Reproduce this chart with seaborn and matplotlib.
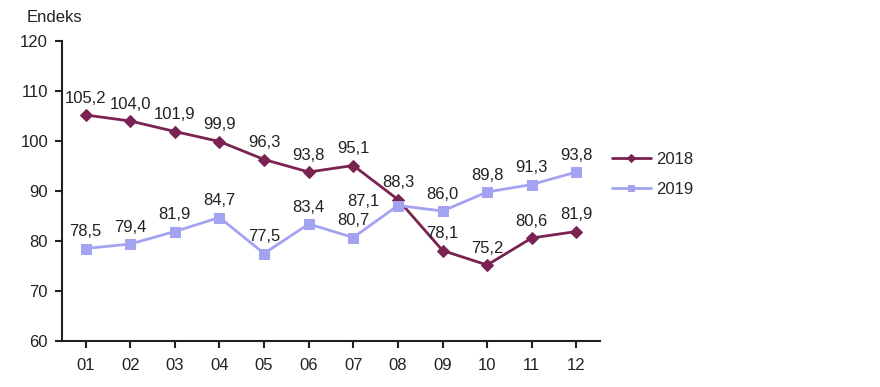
import matplotlib
matplotlib.use("Agg")
import matplotlib.pyplot as plt
import seaborn as sns
import pandas as pd

months = ["01", "02", "03", "04", "05", "06", "07", "08", "09", "10", "11", "12"]
values_2018 = [105.2, 104.0, 101.9, 99.9, 96.3, 93.8, 95.1, 88.3, 78.1, 75.2, 80.6, 81.9]
values_2019 = [78.5, 79.4, 81.9, 84.7, 77.5, 83.4, 80.7, 87.1, 86.0, 89.8, 91.3, 93.8]
series_names = ["2018", "2019"]
yticks = [60, 70, 80, 90, 100, 110, 120]

sns.set_style("white")
plt.rcParams['font.family'] = ['Liberation Sans', 'DejaVu Sans']

pos = list(range(1, 13))
df = pd.DataFrame({
    "pos": pos * 2,
    "value": values_2018 + values_2019,
    "series": [series_names[0]] * 12 + [series_names[1]] * 12,
})

colors = {"2018": "#7A2352", "2019": "#A3A3F2"}
markers = {"2018": "D", "2019": "s"}
FS = 12

fig = plt.figure(figsize=(8.8, 3.87), dpi=100)
ax = fig.add_axes([62 / 880, 46 / 387, 538 / 880, 300 / 387])

for name in series_names:
    sub = df[df["series"] == name]
    sns.lineplot(data=sub, x="pos", y="value", ax=ax, color=colors[name],
                 marker=markers[name], markersize=6 if name == "2018" else 7,
                 markeredgecolor=colors[name], linewidth=2, label=name)

# data labels
for name, vals in zip(series_names, [values_2018, values_2019]):
    for i, v in enumerate(vals):
        txt = f"{v:.1f}".replace(".", ",")
        if name == "2019" and i == 7:
            ax.annotate(txt, (pos[i], v), xytext=(-25, 3), textcoords="offset points",
                        ha="center", va="center", fontsize=FS, color="#222222")
        else:
            ax.annotate(txt, (pos[i], v), xytext=(0, 12), textcoords="offset points",
                        ha="center", va="center", fontsize=FS, color="#222222")

ax.set_xlim(0.47, 12.53)
ax.set_ylim(60, 120)
ax.set_yticks(yticks)
ax.set_xticks(pos)
ax.set_xticklabels(months)
ax.set_xlabel("")
ax.set_ylabel("")
for s in ["top", "right"]:
    ax.spines[s].set_visible(False)
for s in ["left", "bottom"]:
    ax.spines[s].set_color("#222222")
    ax.spines[s].set_linewidth(1.5)
ax.tick_params(axis="both", direction="out", length=5, width=1.5, color="#222222",
               labelsize=FS, labelcolor="#222222", bottom=True, left=True)
ax.tick_params(axis="x", pad=7)
ax.tick_params(axis="y", pad=5)

fig.text(27 / 880, 1 - 17 / 387, "Endeks", fontsize=FS, color="#222222", va="center", ha="left")

leg = ax.legend(loc="upper left", bbox_to_anchor=(0.995, 0.68), frameon=False,
                fontsize=FS, handlelength=2.3, labelspacing=0.9, handletextpad=0.3)
for h in leg.legend_handles:
    h.set_markersize(4)

fig.savefig("out.png", dpi=100)
